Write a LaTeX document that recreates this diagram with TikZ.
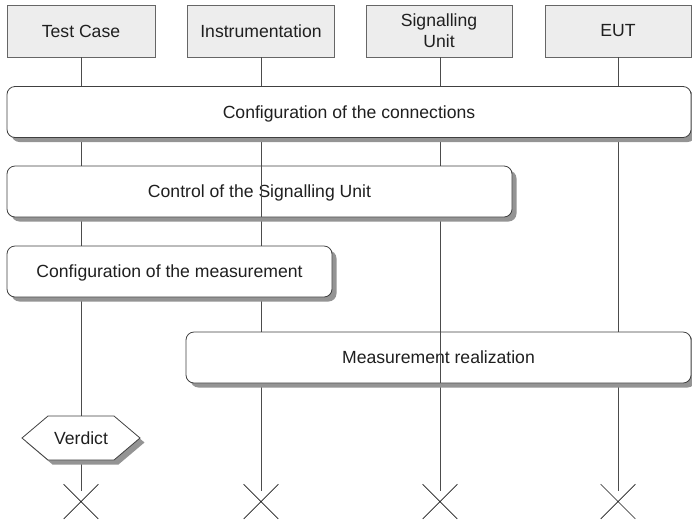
\documentclass[tikz,border=0pt]{standalone}
\usepackage{fontspec}
\setmainfont{Liberation Sans}
\usetikzlibrary{shadows,shapes.misc,calc}
\begin{document}
\begin{tikzpicture}[x=1pt,y=-1pt,
  every node/.style={font=\fontsize{17.6}{21}\selectfont, text=black!88},
  actor/.style={draw=black!60, fill=black!7, line width=0.8pt, minimum height=52pt,
    inner sep=0pt, align=center},
  phase/.style={draw=black!75, fill=white, rounded corners=8pt, line width=0.8pt,
    minimum height=51pt, inner sep=0pt, text depth=0pt, text height=12.6pt,
    drop shadow={shadow xshift=4.5pt, shadow yshift=-4.5pt, fill=black!42, opacity=1}},
  life/.style={draw=black!70, line width=0.8pt},
  endmark/.style={cross out, draw=black!90, line width=0.7pt, minimum size=34pt, inner sep=0pt},
  verdictbox/.style={draw=black!75, fill=white, line width=0.8pt}]
\useasboundingbox (0,0) rectangle (692,523);

% instances
\node[actor, minimum width=148pt] (tc)  at (81,31)  {Test Case};
\node[actor, minimum width=147pt] (ins) at (261,31) {Instrumentation};
\node[actor, minimum width=146pt] (su)  at (439,31) {Signalling\\Unit};
\node[actor, minimum width=146pt] (eut) at (618,31) {EUT};

% instance ends
\node[endmark] (x1) at (81,501.5)  {};
\node[endmark] (x2) at (261,501.5) {};
\node[endmark] (x3) at (440,501.5) {};
\node[endmark] (x4) at (618,501.5) {};

% lifelines
\draw[life] (tc.south)  -- ([yshift=-7pt]x1.north);
\draw[life] (ins.south) -- ([yshift=-7pt]x2.north);
\draw[life] ([xshift=1pt]su.south) -- ([yshift=-7pt]x3.north);
\draw[life] (eut.south) -- ([yshift=-7pt]x4.north);

% phases
\node[phase, minimum width=684pt] (p1) at (349,112)   {Configuration of the connections};
\node[phase, minimum width=505pt] (p2) at (259.5,191.5) {Control of the Signalling Unit};
\node[phase, minimum width=325pt] (p3) at (169.5,271.5) {Configuration of the measurement};
\node[phase, minimum width=505pt] (p4) at (438.5,357.5) {Measurement realization};

% lifelines passing in front of two phases
\draw[life] (ins.south |- p2.north) -- (ins.south |- p2.south);
\draw[life] (x3.north |- p4.north) -- (x3.north |- p4.south);

% verdict
\coordinate (vc) at (81,438);
\fill[black!42]
  ($(vc)+(-54.5,4.5)$) -- ($(vc)+(-28.5,-17.5)$) -- ($(vc)+(37.5,-17.5)$) -- ($(vc)+(63.5,4.5)$)
  -- ($(vc)+(37.5,26.5)$) -- ($(vc)+(-28.5,26.5)$) -- cycle;
\draw[verdictbox]
  ($(vc)+(-59,0)$) -- ($(vc)+(-33,-22)$) -- ($(vc)+(33,-22)$) -- ($(vc)+(59,0)$)
  -- ($(vc)+(33,22)$) -- ($(vc)+(-33,22)$) -- cycle;
\node (vd) at (vc) {Verdict};
\end{tikzpicture}
\end{document}
